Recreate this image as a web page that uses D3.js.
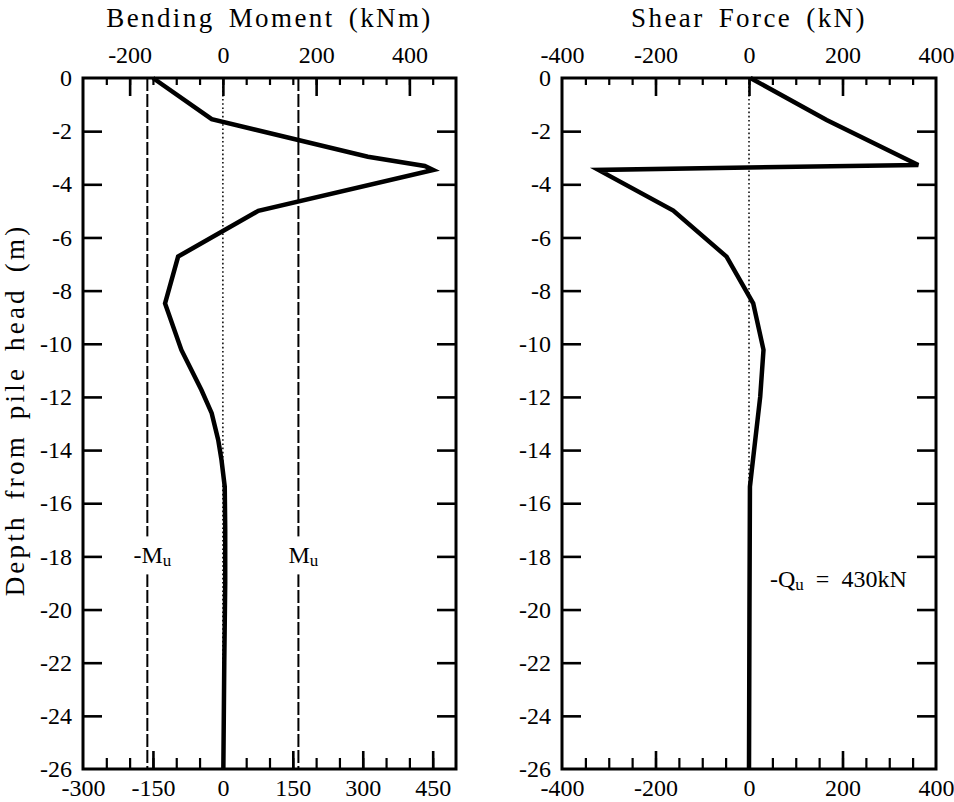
<!DOCTYPE html>
<html>
<head>
<meta charset="utf-8">
<script src="https://cdn.jsdelivr.net/npm/d3@7"></script>
<style>
  html, body { margin: 0; padding: 0; background: #fff; }
  svg { display: block; }
</style>
</head>
<body>
<svg id="chart" width="954" height="802"></svg>
<script>
// Pile response profiles: bending moment and shear force versus depth.
const momentDepth = [0, -1.55, -2.96, -3.31, -3.46, -5.0, -6.72, -8.48, -10.23, -11.74, -12.61, -13.62, -14.37, -15.38, -17, -19, -22, -26];
const momentValue = [-150, -24, 311, 433, 451, 76, -96, -124, -89, -46, -24, -10, -3, 4, 5, 5, 3, 1];

const shearDepth = [0, -1.58, -3.27, -3.46, -4.99, -6.72, -8.48, -10.23, -11.99, -14.75, -15.38, -20, -26];
const shearValue = [3, 166, 362, -322, -162, -48, 9, 31, 24, 6, 2, 1, 0];

const ultimateMoment = 162;          // ±Mu (kNm)
const shearLabelMain = "-Q";
const shearLabelRest = "  =  430kN";

const depthTicks = [0, -2, -4, -6, -8, -10, -12, -14, -16, -18, -20, -22, -24, -26];
const momentTopTicks = [-200, 0, 200, 400];
const momentBottomTicks = [-300, -150, 0, 150, 300, 450];
const momentMinorTicks = [-250, -200, -150, -100, -50, 0, 50, 100, 150, 200, 250, 300, 350, 400, 450];
const shearMajorTicks = [-400, -200, 0, 200, 400];
const shearMinorTicks = [-350, -300, -250, -200, -150, -100, -50, 0, 50, 100, 150, 200, 250, 300, 350];

const SERIF = '"Liberation Serif", "Times New Roman", Times, serif';
const fmt = d => String(d);           // plain hyphen-minus, as printed on the axes

const svg = d3.select("#chart");

const plotTop = 78, plotBottom = 769;
const yDepth = d3.scaleLinear().domain([0, -26]).range([plotTop, plotBottom]);

function styleText(sel, size) {
  sel.style("font-family", SERIF).style("font-size", size + "px").style("fill", "#000");
}

function panel(opts) {
  const g = svg.append("g");
  const x = d3.scaleLinear().domain(opts.domain).range([opts.left, opts.right]);

  // zero reference line
  g.append("line")
    .attr("x1", x(0)).attr("x2", x(0))
    .attr("y1", plotTop).attr("y2", plotBottom)
    .attr("stroke", "#000").attr("stroke-width", 1.5)
    .attr("stroke-dasharray", "1.6,2.6");

  // minor ticks top / bottom
  const minorTop = g.append("g").attr("transform", `translate(0,${plotTop})`)
    .call(d3.axisTop(x).tickValues(opts.minorTicks).tickSize(-7).tickFormat(""));
  const minorBottom = g.append("g").attr("transform", `translate(0,${plotBottom})`)
    .call(d3.axisBottom(x).tickValues(opts.minorTicks).tickSize(-11).tickFormat(""));
  [minorTop, minorBottom].forEach(a => {
    a.select(".domain").remove();
    a.selectAll("line").attr("stroke-width", 2.2);
  });

  // major ticks with labels
  const majorTop = g.append("g").attr("transform", `translate(0,${plotTop})`)
    .call(d3.axisTop(x).tickValues(opts.topTicks).tickSizeInner(-18).tickSizeOuter(0).tickPadding(15).tickFormat(fmt));
  const majorBottom = g.append("g").attr("transform", `translate(0,${plotBottom})`)
    .call(d3.axisBottom(x).tickValues(opts.bottomTicks).tickSizeInner(-18).tickSizeOuter(0).tickPadding(10).tickFormat(fmt));

  const yLeft = g.append("g").attr("transform", `translate(${opts.left},0)`)
    .call(d3.axisLeft(yDepth).tickValues(depthTicks).tickSizeInner(-19).tickSizeOuter(0).tickPadding(11).tickFormat(fmt));
  const yRight = g.append("g").attr("transform", `translate(${opts.right},0)`)
    .call(d3.axisRight(yDepth).tickValues(depthTicks).tickSizeInner(-19).tickSizeOuter(0).tickFormat(""));

  [majorTop, majorBottom, yLeft, yRight].forEach(a => {
    a.select(".domain").remove();
    a.selectAll("line").attr("stroke-width", 2.6);
    styleText(a.selectAll("text"), 24);
  });
  // edge ticks coincide with the frame
  majorBottom.selectAll(".tick").filter(d => d === opts.domain[0] || d === opts.domain[1]).select("line").remove();
  majorTop.selectAll(".tick").filter(d => d === opts.domain[0] || d === opts.domain[1]).select("line").remove();
  yLeft.selectAll(".tick").filter(d => d === 0 || d === -26).select("line").remove();
  yRight.selectAll(".tick").filter(d => d === 0 || d === -26).select("line").remove();

  // frame
  g.append("rect")
    .attr("x", opts.left).attr("y", plotTop)
    .attr("width", opts.right - opts.left).attr("height", plotBottom - plotTop)
    .attr("fill", "none").attr("stroke", "#000").attr("stroke-width", 3);

  // title
  const t = g.append("text")
    .attr("x", (opts.left + opts.right) / 2).attr("y", 27)
    .attr("text-anchor", "middle")
    .style("letter-spacing", "2.4px")
    .style("word-spacing", "5px")
    .text(opts.title);
  styleText(t, 27);

  return { g, x };
}

// ---- Bending moment ----
const bm = panel({
  left: 83, right: 456, domain: [-300, 500],
  topTicks: momentTopTicks, bottomTicks: momentBottomTicks, minorTicks: momentMinorTicks,
  title: "Bending Moment (kNm)"
});

[-ultimateMoment, ultimateMoment].forEach(v => {
  bm.g.append("line")
    .attr("x1", bm.x(v)).attr("x2", bm.x(v))
    .attr("y1", plotTop).attr("y2", plotBottom)
    .attr("stroke", "#000").attr("stroke-width", 2)
    .attr("stroke-dasharray", "13,3");
});

function subLabel(g, x, y, main, sub, rest, anchor) {
  const t = g.append("text")
    .attr("x", x).attr("y", y)
    .attr("text-anchor", anchor)
    .style("white-space", "pre");
  styleText(t, 24);
  t.append("tspan").text(main);
  t.append("tspan").style("font-size", "17px").attr("dy", 3).text(sub);
  if (rest) t.append("tspan").attr("dy", -3).text(rest);
  return t;
}

[[-ultimateMoment, "-M"], [ultimateMoment, "M"]].forEach(([v, lbl]) => {
  const cx = bm.x(v) + 5;
  const cy = yDepth(-18);
  bm.g.append("rect")
    .attr("x", cx - 20).attr("y", cy - 20)
    .attr("width", 40).attr("height", 38)
    .attr("fill", "#fff");
  subLabel(bm.g, cx, cy + 7, lbl, "u", null, "middle");
});

bm.g.append("path")
  .datum(momentDepth.map((d, i) => [momentValue[i], d]))
  .attr("fill", "none").attr("stroke", "#000")
  .attr("stroke-width", 4.5).attr("stroke-linejoin", "miter")
  .attr("d", d3.line().x(d => bm.x(d[0])).y(d => yDepth(d[1])));

// ---- Shear force ----
const sf = panel({
  left: 562, right: 936, domain: [-400, 400],
  topTicks: shearMajorTicks, bottomTicks: shearMajorTicks, minorTicks: shearMinorTicks,
  title: "Shear Force (kN)"
});

sf.g.append("path")
  .datum(shearDepth.map((d, i) => [shearValue[i], d]))
  .attr("fill", "none").attr("stroke", "#000")
  .attr("stroke-width", 4.5).attr("stroke-linejoin", "miter")
  .attr("d", d3.line().x(d => sf.x(d[0])).y(d => yDepth(d[1])));

subLabel(sf.g, sf.x(45), yDepth(-19) + 4, shearLabelMain, "u", shearLabelRest, "start");

// ---- depth axis title ----
const yTitle = svg.append("text")
  .attr("transform", `translate(24,410) rotate(-90)`)
  .attr("text-anchor", "middle")
  .style("letter-spacing", "3.2px")
  .style("word-spacing", "5px")
  .text("Depth from pile head (m)");
styleText(yTitle, 27);
</script>
</body>
</html>
